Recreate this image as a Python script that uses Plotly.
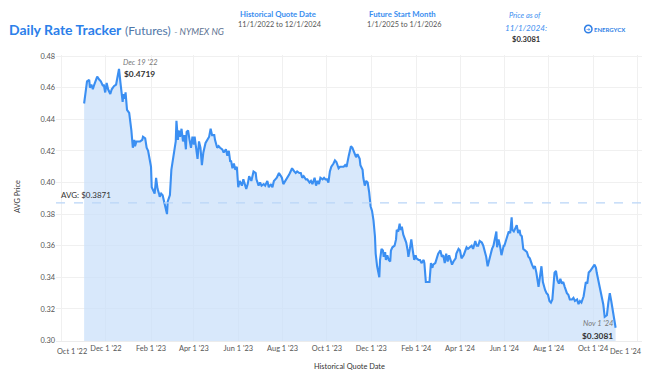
import plotly.graph_objects as go

# ---------------- data ----------------
dates_2022 = ["2022-11-01","2022-11-03","2022-11-05","2022-11-08","2022-11-09","2022-11-11","2022-11-13",
              "2022-11-15","2022-11-17","2022-11-19","2022-11-22","2022-11-24","2022-11-27","2022-11-28",
              "2022-11-30","2022-12-02","2022-12-04","2022-12-07","2022-12-09","2022-12-12","2022-12-15",
              "2022-12-17","2022-12-19","2022-12-21","2022-12-24","2022-12-25","2022-12-27","2022-12-28",
              "2022-12-30"]
prices_2022 = [0.450,0.456,0.464,0.465,0.460,0.462,0.459,0.462,0.465,0.467,0.465,0.464,0.461,0.462,
               0.457,0.463,0.459,0.456,0.459,0.461,0.462,0.467,0.4719,0.463,0.451,0.456,0.453,0.457,0.446]

dates_2023 = ["2023-01-02","2023-01-04","2023-01-05","2023-01-07","2023-01-09","2023-01-10","2023-01-12",
              "2023-01-15","2023-01-17","2023-01-20","2023-01-21","2023-01-24","2023-01-26","2023-01-28",
              "2023-01-30","2023-02-01","2023-02-02","2023-02-05","2023-02-06","2023-02-08","2023-02-10",
              "2023-02-12","2023-02-13","2023-02-15","2023-02-17","2023-02-19","2023-02-21","2023-02-23",
              "2023-02-24","2023-02-27","2023-03-01","2023-03-04","2023-03-05","2023-03-07","2023-03-08",
              "2023-03-10","2023-03-11","2023-03-13","2023-03-15","2023-03-17","2023-03-19","2023-03-21",
              "2023-03-22","2023-03-24","2023-03-26","2023-03-28","2023-03-30","2023-04-01","2023-04-02",
              "2023-04-04","2023-04-06","2023-04-08","2023-04-10","2023-04-12","2023-04-14","2023-04-17",
              "2023-04-19","2023-04-22","2023-04-24","2023-04-26","2023-04-29","2023-04-30","2023-05-03",
              "2023-05-05","2023-05-07","2023-05-10","2023-05-12","2023-05-15","2023-05-17","2023-05-19",
              "2023-05-21","2023-05-22","2023-05-24","2023-05-26","2023-05-28","2023-05-30","2023-06-01",
              "2023-06-03","2023-06-06","2023-06-08","2023-06-10","2023-06-12","2023-06-14","2023-06-16",
              "2023-06-19","2023-06-21","2023-06-22","2023-06-25","2023-06-26","2023-06-29","2023-07-01",
              "2023-07-03","2023-07-06","2023-07-08","2023-07-11","2023-07-13","2023-07-16","2023-07-18",
              "2023-07-20","2023-07-22","2023-07-24","2023-07-27","2023-07-29","2023-07-31","2023-08-02",
              "2023-08-05","2023-08-07","2023-08-10","2023-08-12","2023-08-14","2023-08-17","2023-08-19",
              "2023-08-21","2023-08-24","2023-08-26","2023-08-28","2023-08-30","2023-09-02","2023-09-04",
              "2023-09-07","2023-09-09","2023-09-11","2023-09-14","2023-09-16","2023-09-18","2023-09-20",
              "2023-09-22","2023-09-25","2023-09-27","2023-09-29","2023-10-01","2023-10-03","2023-10-05",
              "2023-10-07","2023-10-10","2023-10-12","2023-10-14","2023-10-17","2023-10-19","2023-10-22",
              "2023-10-24","2023-10-26","2023-10-28","2023-10-31","2023-11-03","2023-11-05","2023-11-08",
              "2023-11-10","2023-11-12","2023-11-15","2023-11-16","2023-11-19","2023-11-20","2023-11-22",
              "2023-11-24","2023-11-26","2023-11-28","2023-11-30","2023-12-02","2023-12-04","2023-12-06",
              "2023-12-07","2023-12-09","2023-12-12","2023-12-13","2023-12-15","2023-12-17","2023-12-18",
              "2023-12-20","2023-12-21","2023-12-23","2023-12-25","2023-12-27","2023-12-28","2023-12-30"]
prices_2023 = [0.444,0.437,0.433,0.422,0.427,0.423,0.426,0.426,0.426,0.427,0.429,0.428,0.422,0.420,
               0.415,0.410,0.397,0.394,0.393,0.403,0.396,0.393,0.391,0.393,0.392,0.388,0.383,0.380,
               0.388,0.392,0.408,0.418,0.422,0.426,0.439,0.427,0.433,0.429,0.434,0.426,0.430,0.421,
               0.432,0.433,0.427,0.422,0.429,0.424,0.429,0.423,0.415,0.426,0.422,0.411,0.419,0.425,
               0.427,0.429,0.434,0.430,0.430,0.427,0.422,0.423,0.422,0.421,0.419,0.421,0.417,0.420,
               0.413,0.414,0.409,0.412,0.408,0.410,0.397,0.401,0.398,0.402,0.399,0.396,0.399,0.404,
               0.401,0.405,0.407,0.406,0.402,0.398,0.400,0.398,0.399,0.398,0.401,0.397,0.399,0.397,
               0.401,0.402,0.403,0.406,0.404,0.403,0.399,0.401,0.403,0.405,0.407,0.409,0.407,0.406,
               0.407,0.406,0.406,0.403,0.404,0.402,0.402,0.400,0.401,0.399,0.403,0.398,0.401,0.399,
               0.403,0.402,0.403,0.402,0.402,0.400,0.407,0.410,0.412,0.414,0.413,0.409,0.410,0.410,
               0.410,0.411,0.410,0.417,0.423,0.422,0.419,0.416,0.418,0.415,0.411,0.408,0.403,0.398,
               0.401,0.400,0.394,0.385,0.382,0.376,0.366,0.355,0.347,0.340,0.351,0.358,0.357,0.353,
               0.356,0.351,0.354,0.351,0.350,0.357,0.359]

dates_2024 = ["2024-01-02","2024-01-04","2024-01-05","2024-01-07","2024-01-09","2024-01-10","2024-01-12",
              "2024-01-14","2024-01-16","2024-01-18","2024-01-20","2024-01-21","2024-01-23","2024-01-25",
              "2024-01-27","2024-01-29","2024-01-31","2024-02-01","2024-02-04","2024-02-06","2024-02-08",
              "2024-02-11","2024-02-12","2024-02-14","2024-02-17","2024-02-19","2024-02-21","2024-02-23",
              "2024-02-24","2024-02-27","2024-02-29","2024-03-02","2024-03-05","2024-03-07","2024-03-09",
              "2024-03-11","2024-03-13","2024-03-15","2024-03-17","2024-03-19","2024-03-21","2024-03-23",
              "2024-03-26","2024-03-27","2024-03-30","2024-04-01","2024-04-03","2024-04-06","2024-04-08",
              "2024-04-10","2024-04-12","2024-04-15","2024-04-17","2024-04-19","2024-04-22","2024-04-24",
              "2024-04-26","2024-04-28","2024-05-01","2024-05-03","2024-05-05","2024-05-07","2024-05-09",
              "2024-05-10","2024-05-12","2024-05-15","2024-05-17","2024-05-19","2024-05-21","2024-05-22",
              "2024-05-24","2024-05-26","2024-05-28","2024-05-31","2024-06-01","2024-06-03","2024-06-05",
              "2024-06-07","2024-06-09","2024-06-11","2024-06-12","2024-06-14","2024-06-16","2024-06-18",
              "2024-06-20","2024-06-22","2024-06-23","2024-06-25","2024-06-27","2024-06-29","2024-07-02",
              "2024-07-04","2024-07-06","2024-07-09","2024-07-11","2024-07-13","2024-07-15","2024-07-18",
              "2024-07-20","2024-07-22","2024-07-24","2024-07-26","2024-07-27","2024-07-29","2024-07-31",
              "2024-08-02","2024-08-04","2024-08-06","2024-08-07","2024-08-09","2024-08-11","2024-08-13",
              "2024-08-15","2024-08-17","2024-08-19","2024-08-21","2024-08-23","2024-08-26","2024-08-28",
              "2024-08-30","2024-09-02","2024-09-04","2024-09-06","2024-09-09","2024-09-11","2024-09-13",
              "2024-09-15","2024-09-18","2024-09-20","2024-09-21","2024-09-23","2024-09-25","2024-09-27",
              "2024-09-29","2024-09-30","2024-10-03","2024-10-05","2024-10-06","2024-10-08","2024-10-11",
              "2024-10-13","2024-10-15","2024-10-17","2024-10-20","2024-10-22","2024-10-24","2024-10-26",
              "2024-10-28","2024-10-29","2024-11-01"]
prices_2024 = [0.360,0.364,0.370,0.369,0.374,0.370,0.372,0.367,0.364,0.362,0.357,0.353,0.358,0.364,
               0.357,0.351,0.354,0.352,0.351,0.351,0.349,0.351,0.349,0.337,0.337,0.337,0.349,0.346,
               0.348,0.349,0.352,0.355,0.357,0.353,0.354,0.349,0.355,0.350,0.354,0.351,0.348,0.350,
               0.352,0.355,0.358,0.357,0.352,0.354,0.356,0.359,0.358,0.359,0.360,0.358,0.363,0.360,
               0.360,0.363,0.362,0.360,0.357,0.353,0.347,0.349,0.354,0.358,0.360,0.364,0.369,0.359,
               0.364,0.360,0.354,0.360,0.360,0.363,0.366,0.369,0.368,0.378,0.370,0.369,0.371,0.373,
               0.368,0.370,0.367,0.366,0.358,0.357,0.356,0.353,0.352,0.348,0.346,0.347,0.343,0.334,
               0.340,0.347,0.337,0.333,0.332,0.330,0.329,0.325,0.324,0.326,0.334,0.343,0.344,0.338,
               0.336,0.339,0.336,0.337,0.334,0.330,0.329,0.326,0.326,0.327,0.325,0.326,0.323,0.325,
               0.324,0.328,0.334,0.337,0.336,0.343,0.344,0.345,0.346,0.348,0.346,0.343,0.338,0.332,
               0.327,0.323,0.315,0.316,0.324,0.330,0.325,0.320,0.316,0.3081]

avg_price = 0.3871
peak_date, peak_price = "2022-12-19", 0.4719
last_date, last_price = "2024-11-01", 0.3081

tick_dates = ["2022-10-01","2022-12-01","2023-02-01","2023-04-01","2023-06-01","2023-08-01","2023-10-01",
              "2023-12-01","2024-02-01","2024-04-01","2024-06-01","2024-08-01","2024-10-01","2024-12-01"]
tick_labels = ["Oct 1 '22","Dec 1 '22","Feb 1 '23","Apr 1 '23","Jun 1 '23","Aug 1 '23","Oct 1 '23",
               "Dec 1 '23","Feb 1 '24","Apr 1 '24","Jun 1 '24","Aug 1 '24","Oct 1 '24","Dec 1 '24"]
y_ticks = [0.30, 0.32, 0.34, 0.36, 0.38, 0.40, 0.42, 0.44, 0.46, 0.48]

dates = dates_2022 + dates_2023 + dates_2024
prices = prices_2022 + prices_2023 + prices_2024

# ---------------- layout geometry ----------------
W, H = 650, 379
L, R, T, B = 56, 642, 55, 341   # plot area in pixels

def px(x):
    return (x - L) / (R - L)

def py(y):
    return (B - y) / (B - T)

FONT = "Lato, 'Open Sans', sans-serif"
BLUE = "#3a8ef0"
LINE = "#3b8ff2"
FILL = "rgba(203,224,250,0.75)"
TICKFONT = dict(family=FONT, size=7.4, color="#555")

fig = go.Figure()
fig.add_trace(go.Scatter(
    x=dates, y=prices, mode="lines",
    line=dict(color=LINE, width=2.1),
    fill="tozeroy", fillcolor=FILL,
    hoverinfo="x+y", showlegend=False))

# average dashed line across the whole plot
fig.add_shape(type="line", xref="paper", yref="y", x0=0, x1=1, y0=avg_price, y1=avg_price,
              line=dict(color="#b9d5f7", width=1.3, dash="dash"), layer="above")

ann = []
ann.append(dict(xref="paper", yref="y", x=px(59), y=avg_price, xanchor="left", yanchor="bottom",
                yshift=1, text=f"AVG: ${avg_price:.4f}", showarrow=False,
                font=dict(family=FONT, size=8, color="#333")))
ann.append(dict(xref="x", yref="y", x=peak_date, y=peak_price, xanchor="left", yanchor="middle",
                xshift=2, yshift=6, text="<i>Dec 19 '22</i>", showarrow=False,
                font=dict(family=FONT, size=7.5, color="#777")))
ann.append(dict(xref="x", yref="y", x=peak_date, y=peak_price, xanchor="left", yanchor="middle",
                xshift=3, yshift=-5, text=f"<b>${peak_price:.4f}</b>", showarrow=False,
                font=dict(family=FONT, size=8.4, color="#333")))
ann.append(dict(xref="x", yref="y", x=last_date, y=last_price, xanchor="right", yanchor="middle",
                xshift=-1, yshift=4, text="<i>Nov 1 '24</i>", showarrow=False,
                font=dict(family=FONT, size=7.5, color="#777")))
ann.append(dict(xref="x", yref="y", x=last_date, y=last_price, xanchor="right", yanchor="middle",
                xshift=-1, yshift=-8, text=f"<b>${last_price:.4f}</b>", showarrow=False,
                font=dict(family=FONT, size=8.4, color="#333")))

# edge tick labels, nudged inside the page as in the reference
ann.append(dict(xref="paper", yref="paper", x=px(72), y=py(351), xanchor="center", yanchor="middle",
                text=tick_labels[0], showarrow=False, font=TICKFONT))
ann.append(dict(xref="paper", yref="paper", x=px(626), y=py(351), xanchor="center", yanchor="middle",
                text=tick_labels[-1], showarrow=False, font=TICKFONT))
axis_labels = [""] + tick_labels[1:-1] + [""]

# axis titles
ann.append(dict(xref="paper", yref="paper", x=px(17), y=py(197), textangle=-90, xanchor="center",
                yanchor="middle", text="AVG Price", showarrow=False,
                font=dict(family=FONT, size=7.4, color="#333")))
ann.append(dict(xref="paper", yref="paper", x=px(349), y=py(366), xanchor="center", yanchor="middle",
                text="Historical Quote Date", showarrow=False,
                font=dict(family=FONT, size=7.4, color="#333")))

# header
ann.append(dict(xref="paper", yref="paper", x=px(7), y=py(30), xanchor="left", yanchor="middle",
                text="<b>Daily Rate Tracker</b> <span style='font-size:12px;color:#5077a8'>(Futures)</span>"
                     " <span style='font-size:9px;color:#5d7291'><i>- NYMEX NG</i></span>",
                showarrow=False, font=dict(family=FONT, size=14, color="#2c80ea")))
ann.append(dict(xref="paper", yref="paper", x=px(278), y=py(14), xanchor="center", yanchor="middle",
                text="<b>Historical Quote Date</b>", showarrow=False,
                font=dict(family=FONT, size=7.8, color=BLUE)))
ann.append(dict(xref="paper", yref="paper", x=px(280), y=py(24.5), xanchor="center", yanchor="middle",
                text="11/1/2022 to 12/1/2024", showarrow=False,
                font=dict(family=FONT, size=7.3, color="#555")))
ann.append(dict(xref="paper", yref="paper", x=px(402), y=py(14), xanchor="center", yanchor="middle",
                text="<b>Future Start Month</b>", showarrow=False,
                font=dict(family=FONT, size=7.8, color=BLUE)))
ann.append(dict(xref="paper", yref="paper", x=px(404), y=py(24.5), xanchor="center", yanchor="middle",
                text="1/1/2025 to 1/1/2026", showarrow=False,
                font=dict(family=FONT, size=7.3, color="#555")))
ann.append(dict(xref="paper", yref="paper", x=px(525), y=py(16), xanchor="center", yanchor="middle",
                text="<i>Price as of</i>", showarrow=False,
                font=dict(family=FONT, size=7.4, color=BLUE)))
ann.append(dict(xref="paper", yref="paper", x=px(526), y=py(28), xanchor="center", yanchor="middle",
                text="<i>11/1/2024:</i>", showarrow=False,
                font=dict(family=FONT, size=8.2, color=BLUE)))
ann.append(dict(xref="paper", yref="paper", x=px(525.5), y=py(38.5), xanchor="center", yanchor="middle",
                text=f"<b>${last_price:.4f}</b>", showarrow=False,
                font=dict(family=FONT, size=7.6, color="#333")))
# logo
ann.append(dict(xref="paper", yref="paper", x=px(592), y=py(29), xanchor="left", yanchor="middle",
                text="<b>ENERGYCX</b>", showarrow=False,
                font=dict(family=FONT, size=6, color="#2f7fe6")))
ann.append(dict(xref="paper", yref="paper", x=px(588.3), y=py(29), xanchor="center", yanchor="middle",
                text="<b>➔</b>", showarrow=False,
                font=dict(family="DejaVu Sans", size=5, color="#2f7fe6")))
fig.add_shape(type="circle", xref="paper", yref="paper", x0=px(584.6), x1=px(592), y0=py(32.7), y1=py(25.3),
              line=dict(color="#2f7fe6", width=1.5))

fig.update_layout(
    width=W, height=H,
    margin=dict(l=L, r=W - R, t=T, b=H - B, pad=0, autoexpand=False),
    paper_bgcolor="white", plot_bgcolor="white",
    font=dict(family=FONT, size=7.4, color="#666"),
    annotations=ann,
    xaxis=dict(type="date", range=["2022-09-23 08:00", "2024-12-07 07:00"], automargin=False,
               tickmode="array", tickvals=tick_dates, ticktext=axis_labels,
               showgrid=True, gridcolor="#f0f0f0", gridwidth=1, zeroline=False,
               showline=True, linecolor="#ececec", linewidth=1,
               ticks="", tickfont=TICKFONT),
    yaxis=dict(range=[0.2997, 0.4807], tickmode="array", tickvals=y_ticks, automargin=False,
               ticktext=[f"{v:.2f}" for v in y_ticks],
               showgrid=True, gridcolor="#f0f0f0", gridwidth=1, zeroline=False,
               showline=False, ticks="", tickfont=TICKFONT),
    hovermode="x",
)

fig.write_html("out.html", config={"displayModeBar": False},
               post_script="document.body.style.margin='0px';")
